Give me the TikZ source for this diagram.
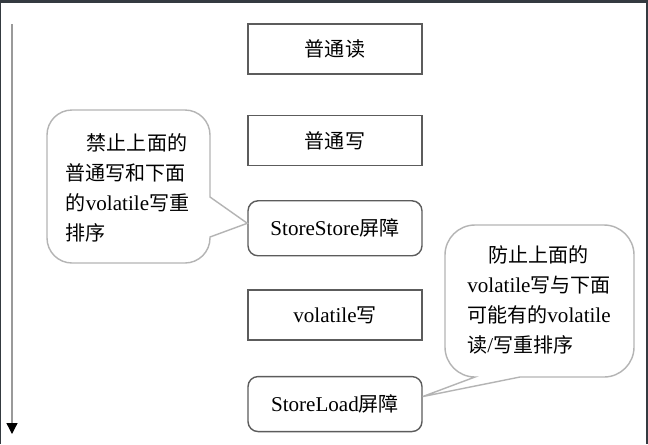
\documentclass[tikz,border=0pt]{standalone}
\usepackage{fontspec}
\setmainfont{Liberation Serif}
\newfontfamily\cjk{Noto Sans CJK SC}[Scale=0.95]
\newcommand\zh[1]{{\cjk #1}}
\usepackage{xcolor}
\usetikzlibrary{arrows.meta,positioning}
\definecolor{framegray}{HTML}{343A40}
\definecolor{boxgray}{HTML}{5C5C5C}
\definecolor{bubblegray}{HTML}{B4B4B4}
\definecolor{arrowgray}{HTML}{9A9A9A}

\begin{document}
\begin{tikzpicture}[x=0.02cm,y=-0.02cm,
    font=\fontsize{12}{17}\selectfont,
    plainbox/.style={draw=boxgray, line width=0.8pt, minimum width=3.48cm,
      minimum height=1cm, inner sep=0pt},
    barrierbox/.style={plainbox, rounded corners=0.2cm, minimum height=1.1cm},
    bubble/.style={draw=bubblegray, line width=0.8pt},
    note/.style={align=left, inner sep=0pt}]
  % Frame and page
  \fill[framegray] (0,0) rectangle (648,444);
  \fill[white] (1,3) rectangle (646,444);
  \useasboundingbox (0,0) rectangle (648,444);
  % Time axis
  \coordinate (top) at (12,24);
  \coordinate (bottom) at (12,434);
  \draw[arrowgray, line width=0.7pt,
    -{Triangle[color=black, length=0.22cm, width=0.22cm]}] (top) -- (bottom);
  % Instruction sequence
  \node[plainbox] (read) at (335,49) {\zh{普通读}};
  \node[plainbox, below=0.8cm of read] (write) {\zh{普通写}};
  \node[barrierbox, below=0.68cm of write] (storestore) {StoreStore\zh{屏障}};
  \node[plainbox, below=0.66cm of storestore] (vwrite) {volatile\zh{写}};
  \node[barrierbox, below=0.7cm of vwrite] (storeload) {StoreLoad\zh{屏障}};
  % Left note
  \node[note] (leftnote) at (127.5,188)
    {\hspace*{1em}\zh{禁止上面的}\\ \zh{普通写和下面}\\ \zh{的}volatile\zh{写重}\\ \zh{排序}};
  \coordinate (lefttip) at ([yshift=0.1cm]storestore.west);
  \draw[bubble] (lefttip) -- (210,237) [rounded corners=0.5cm] -- (210,263)
    -- (47,263) -- (47,110) -- (210,110) [sharp corners] -- (210,197) -- cycle;
  % Right note
  \node[note] (rightnote) at (539,300)
    {\hspace*{1em}\zh{防止上面的}\\ volatile\zh{写与下面}\\ \zh{可能有的}volatile\\ \zh{读}/\zh{写重排序}};
  \coordinate (righttip) at ([yshift=0.15cm]storeload.east);
  \draw[bubble] (righttip) -- (520,377) [rounded corners=0.6cm] -- (634,377)
    -- (634,225) -- (445,225) -- (445,377) [sharp corners] -- (475,377) -- cycle;
\end{tikzpicture}
\end{document}
